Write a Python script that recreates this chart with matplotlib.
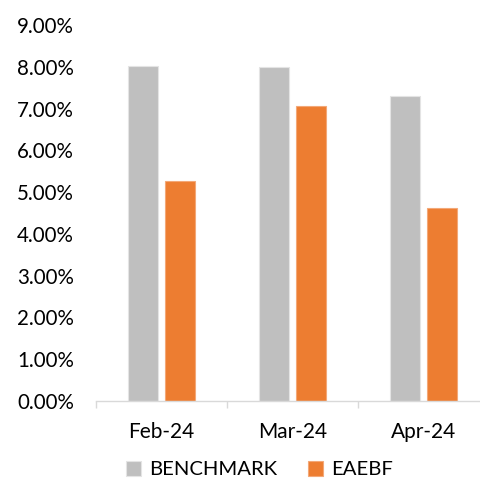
import numpy as np
import matplotlib
matplotlib.use("Agg")
import matplotlib.pyplot as plt
from matplotlib.ticker import FuncFormatter

months = ["Feb-24", "Mar-24", "Apr-24"]
benchmark = [8.03, 8.00, 7.30]
eaebf = [5.26, 7.06, 4.63]
y_ticks = [0, 1, 2, 3, 4, 5, 6, 7, 8, 9]

plt.rcParams["font.family"] = ["Lato", "DejaVu Sans"]

fig = plt.figure(figsize=(4.8, 4.79), dpi=100)
ax = fig.add_axes([0.2, 0.1628, 0.8, 0.785])

x = np.arange(len(months))
w = 0.225
off = 0.141
ax.bar(x - off, benchmark, width=w, color="#BFBFBF", edgecolor="#E4E4E4", linewidth=0.8,
       label="BENCHMARK")
ax.bar(x + off, eaebf, width=w, color="#ED7D31", edgecolor="#F3A878", linewidth=0.8,
       label="EAEBF")

ax.set_xlim(-0.5, 2.43)
ax.set_ylim(0, 9)
ax.set_yticks(y_ticks)
ax.yaxis.set_major_formatter(FuncFormatter(lambda v, _: f"{v:.2f}%"))
ax.tick_params(axis="y", length=0, labelsize=14.8, pad=16, colors="#000000")

ax.set_xticks(x)
ax.set_xticklabels(months)
ax.set_xticks([-0.5, 0.5, 1.5], minor=True)
ax.tick_params(axis="x", which="major", length=0, labelsize=15, pad=15)
ax.tick_params(axis="x", which="minor", length=5, color="#D9D9D9", width=1)

for s in ["top", "right", "left"]:
    ax.spines[s].set_visible(False)
ax.spines["bottom"].set_color("#D9D9D9")
ax.spines["bottom"].set_linewidth(1)

fig.legend(loc="center", bbox_to_anchor=(0.54, 0.02), ncol=2, frameon=False,
           fontsize=14.6, handlelength=0.75, handleheight=0.75, handletextpad=0.4,
           columnspacing=1.5, borderaxespad=0.2)

fig.savefig("out.png", dpi=100)
